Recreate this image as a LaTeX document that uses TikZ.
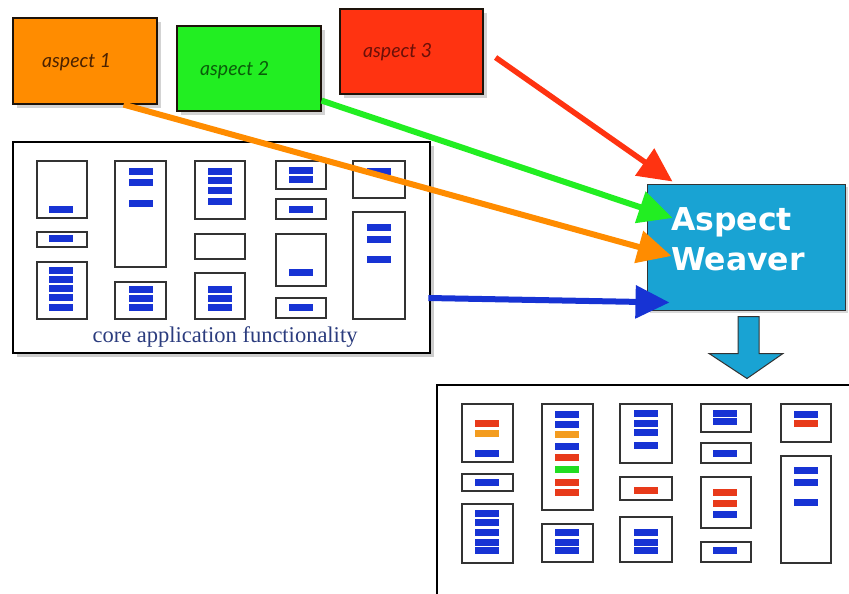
\documentclass[tikz,border=0pt]{standalone}
\usepackage{fontspec}
\setmainfont{Liberation Serif}
\newfontfamily\aspfont{Lato}
\newfontfamily\weavfont{DejaVu Sans}
\usetikzlibrary{arrows.meta,shadows}
\definecolor{aorange}{HTML}{FF8C00}
\definecolor{agreen}{HTML}{22EE22}
\definecolor{ared}{HTML}{FF3311}
\definecolor{tbrown}{HTML}{4B2200}
\definecolor{tgreen}{HTML}{0A5C0A}
\definecolor{tred}{HTML}{6B1008}
\definecolor{weav}{HTML}{19A3D3}
\definecolor{bblue}{HTML}{1733D4}
\definecolor{bred}{HTML}{E83A1A}
\definecolor{borange}{HTML}{F39C1F}
\definecolor{bgreen}{HTML}{22DD22}
\definecolor{coretext}{HTML}{2B3C7E}
\newcommand\ibox[4]{\draw[innerbox] (#1,#2) rectangle (#3,#4);}
\newcommand\ibar[3]{\fill[#3] (#1-12,#2-3.5) rectangle (#1+12,#2+3.5);}
\begin{document}
\begin{tikzpicture}[x=1pt,y=-1pt,
  aspectbox/.style={draw=black!85!brown, line width=1.2pt, inner sep=0pt,
    drop shadow={shadow xshift=4pt, shadow yshift=-4pt, opacity=0.35}},
  aspecttext/.style={font=\aspfont\itshape\fontsize{19.5}{22}\selectfont, inner sep=0pt, anchor=base west},
  bigbox/.style={draw=black, line width=2.6pt, fill=white, inner sep=0pt,
    drop shadow={shadow xshift=4pt, shadow yshift=-4pt, opacity=0.4}},
  innerbox/.style={draw=black!80, line width=1.2pt},
  conn/.style={line width=6pt, -{Triangle[length=34pt,width=32pt]}},
]
\path[use as bounding box] (0,0) rectangle (849,594);
\clip (0,0) rectangle (849,594);

% core application box
\node[bigbox, minimum width=417pt, minimum height=211pt] (core) at (221.5,247.5) {};
% column 1
\ibox{37}{161}{87}{218} \ibar{61}{209}{bblue}
\ibox{37}{232}{87}{247} \ibar{61}{238}{bblue}
\ibox{37}{262}{87}{319}
\foreach \y in {270,279,288,297,307} {\ibar{61}{\y}{bblue}}
% column 2
\ibox{115}{161}{166}{267}
\foreach \y in {171,182,203} {\ibar{140.5}{\y}{bblue}}
\ibox{115}{282}{166}{319}
\foreach \y in {289,298,307} {\ibar{140.5}{\y}{bblue}}
% column 3
\ibox{195}{161}{245}{219}
\foreach \y in {171,180,190,201} {\ibar{220}{\y}{bblue}}
\ibox{195}{234}{245}{259}
\ibox{195}{273}{245}{319}
\foreach \y in {289,298,307} {\ibar{220}{\y}{bblue}}
% column 4
\ibox{276}{161}{326}{189}
\foreach \y in {170,179} {\ibar{300.5}{\y}{bblue}}
\ibox{276}{199}{326}{219} \ibar{300.5}{209}{bblue}
\ibox{276}{234}{326}{286} \ibar{300.5}{272}{bblue}
\ibox{276}{298}{326}{318} \ibar{300.5}{307}{bblue}
% column 5
\ibox{353}{161}{405}{198} \ibar{378.5}{171}{bblue}
\ibox{353}{212}{405}{319}
\foreach \y in {227,239,259} {\ibar{378.5}{\y}{bblue}}
\node[font=\fontsize{22.5}{26}\selectfont, text=coretext, anchor=base, inner sep=0pt] (coretxt) at (225,342) {core application functionality};

% aspect weaver
\node[draw=black!80, line width=1pt, fill=weav, minimum width=198pt, minimum height=126pt, inner sep=0pt,
  drop shadow={shadow xshift=3pt, shadow yshift=-3pt, opacity=0.3}] (weaver) at (746,247) {};
\node[font=\weavfont\bfseries\fontsize{31.5}{40}\selectfont, text=white, align=left, inner sep=0pt] (weavtxt) at (738,239.5) {Aspect\\Weaver};

% result box
\node[bigbox, minimum width=440pt, minimum height=240pt] (result) at (657,505) {};
% column 1
\ibox{462}{404}{513}{462}
\ibar{487}{423}{bred} \ibar{487}{433}{borange} \ibar{487}{453}{bblue}
\ibox{462}{474}{513}{491} \ibar{487}{482}{bblue}
\ibox{462}{504}{513}{563}
\foreach \y in {513,522,532,542,550} {\ibar{487}{\y}{bblue}}
% column 2
\ibox{542}{404}{593}{510}
\ibar{567}{414}{bblue} \ibar{567}{424}{bblue} \ibar{567}{434}{borange} \ibar{567}{446}{bblue}
\ibar{567}{457}{bred} \ibar{567}{469}{bgreen} \ibar{567}{482}{bred} \ibar{567}{492}{bred}
\ibox{542}{524}{593}{562}
\foreach \y in {532,542,550} {\ibar{567}{\y}{bblue}}
% column 3
\ibox{620}{404}{672}{463}
\foreach \y in {413,423,432,445} {\ibar{646}{\y}{bblue}}
\ibox{620}{477}{672}{500} \ibar{646}{490}{bred}
\ibox{620}{517}{672}{562}
\foreach \y in {532,542,550} {\ibar{646}{\y}{bblue}}
% column 4
\ibox{701}{404}{751}{432}
\ibar{725}{413}{bblue} \ibar{725}{421}{bblue}
\ibox{701}{443}{751}{463} \ibar{725}{453}{bblue}
\ibox{701}{477}{751}{528}
\ibar{725}{492}{bred} \ibar{725}{503}{bred} \ibar{725}{514}{bblue}
\ibox{701}{542}{751}{562} \ibar{725}{550}{bblue}
% column 5
\ibox{781}{404}{831}{442}
\ibar{806}{414}{bblue} \ibar{806}{423}{bred}
\ibox{781}{456}{831}{563}
\foreach \y in {470,482,502} {\ibar{806}{\y}{bblue}}

% down arrow from weaver to result
\draw[draw=black!80, line width=1pt, fill=weav, line join=miter]
  ([shift={(-8,6)}]weaver.south) -- ([shift={(13,6)}]weaver.south) -- ([shift={(13,43)}]weaver.south)
  -- ([shift={(37,43)}]weaver.south) -- ([shift={(1,68)}]weaver.south) -- ([shift={(-37,43)}]weaver.south)
  -- ([shift={(-8,43)}]weaver.south) -- cycle;

% aspect boxes
\node[aspectbox, fill=aorange, minimum width=144pt, minimum height=86pt] (a1) at (85,61) {};
\node[aspectbox, fill=agreen, minimum width=144pt, minimum height=85pt] (a2) at (249,68.5) {};
\node[aspectbox, fill=ared, minimum width=143pt, minimum height=85pt] (a3) at (411.5,51.5) {};
\node[aspecttext, text=tbrown] (a1t) at (42,68) {aspect 1};
\node[aspecttext, text=tgreen] (a2t) at (200,75) {aspect 2};
\node[aspecttext, text=tred] (a3t) at (363,58) {aspect 3};

% connectors
\draw[conn, draw=ared, fill=ared, line width=5.5pt] ([shift={(12,6)}]a3.east) -- ([shift={(26,-2)}]weaver.north west);
\draw[conn, draw=agreen, fill=agreen] ([shift={(0,-11)}]a2.south east) -- ([shift={(26,-29)}]weaver.west);
\draw[conn, draw=aorange, fill=aorange] ([shift={(-34,0)}]a1.south east) -- ([shift={(25,9)}]weaver.west);
\draw[conn, draw=bblue, fill=bblue] ([shift={(-3,50.5)}]core.east) -- ([shift={(23,-8)}]weaver.south west);
\end{tikzpicture}
\end{document}
